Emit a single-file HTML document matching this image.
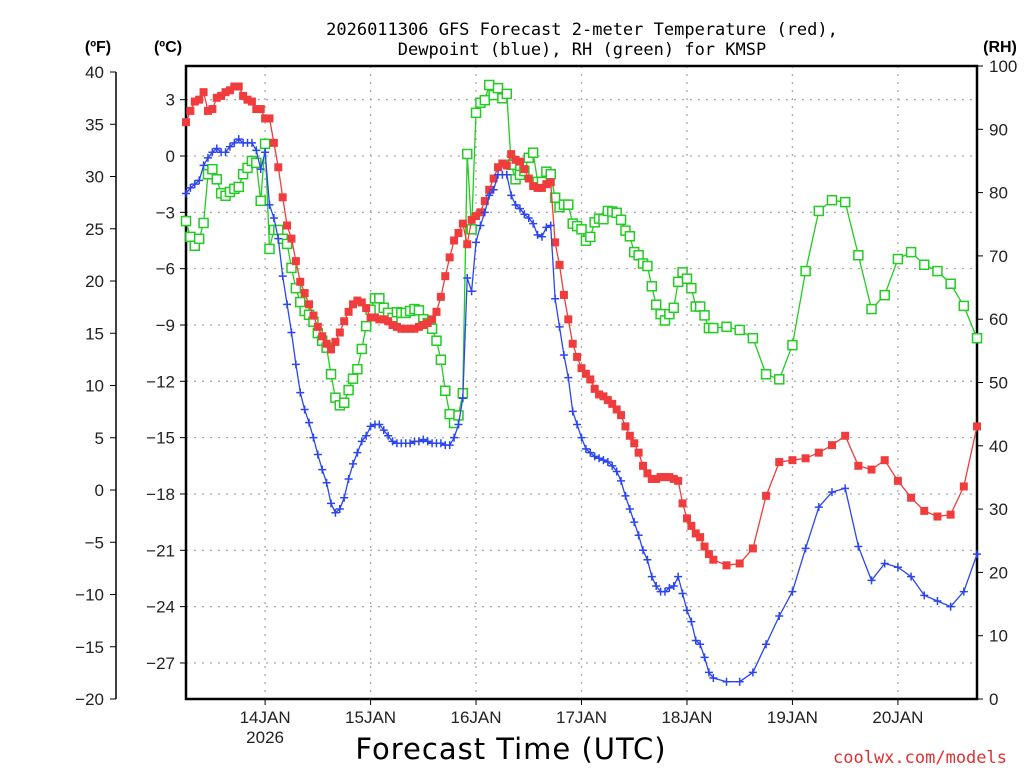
<!DOCTYPE html>
<html><head><meta charset="utf-8"><style>
html,body{margin:0;padding:0;background:#fff;}
svg{display:block;font-family:"Liberation Sans",sans-serif;}
</style></head><body>
<svg id="chart" width="1024" height="768" viewBox="0 0 1024 768">
<g font-family="DejaVu Sans Mono, Liberation Mono, monospace" font-size="17" text-anchor="middle" fill="#000">
<text x="582" y="35">2026011306 GFS Forecast 2-meter Temperature (red),</text>
<text x="582" y="55">Dewpoint (blue), RH (green) for KMSP</text>
</g>
<text x="98" y="52" font-size="16" font-weight="bold" text-anchor="middle">(ºF)</text>
<text x="168" y="52" font-size="16" font-weight="bold" text-anchor="middle">(ºC)</text>
<text x="1000" y="52" font-size="16" font-weight="bold" text-anchor="middle">(RH)</text>
<g id="grid"></g>
<g id="axes"></g>
<g id="series"></g>
<text x="511" y="759" font-size="29" letter-spacing="1" text-anchor="middle" font-family="DejaVu Sans, Liberation Sans, sans-serif">Forecast Time (UTC)</text>
<text x="920" y="763" font-size="17" fill="#e03030" text-anchor="middle" font-family="DejaVu Sans Mono, Liberation Mono, monospace">coolwx.com/models</text>
</svg>
<script>
// ---- data ----
const hoursHourly = Array.from({length:121},(_,i)=>i);
const hours3 = [123,126,129,132,135,138,141,144,147,150,153,156,159,162,165,168,171,174,177,180];
const tempC = [1.8,2.4,2.9,3.0,3.4,2.4,2.5,3.1,3.2,3.4,3.5,3.7,3.7,3.2,3.0,2.9,2.5,2.5,2.0,2.0,
0.7,-0.6,-2.2,-3.7,-4.4,-5.6,-6.7,-7.3,-7.9,-8.5,-9.1,-9.6,-10.0,-10.3,-9.9,-9.4,-8.8,-8.3,-7.9,-7.7,
-7.8,-8.1,-8.6,-8.6,-8.7,-8.7,-8.8,-9.0,-9.1,-9.2,-9.2,-9.2,-9.2,-9.1,-9.0,-8.9,-8.7,-8.3,-7.5,-6.4,
-5.4,-4.5,-4.1,-3.6,-4.7,-3.4,-3.2,-3.0,-2.4,-1.8,-1.2,-0.6,-0.4,-0.5,0.1,-0.2,-0.3,-0.7,-1.2,-1.6,
-1.7,-1.7,-1.5,-1.4,-4.6,-5.8,-7.4,-8.7,-10.0,-10.7,-11.3,-11.6,-11.9,-12.4,-12.7,-12.8,-13.0,-13.2,-13.5,-13.8,
-14.4,-14.9,-15.3,-15.8,-16.5,-16.9,-17.2,-17.2,-17.1,-17.1,-17.1,-17.2,-17.3,-18.5,-19.3,-19.7,-20.1,-20.3,-20.8,-21.2,
-21.5,
-21.8,-21.7,-20.9,-18.1,-16.3,-16.2,-16.1,-15.8,-15.4,-14.9,-16.5,-16.7,-16.2,-17.3,-18.2,-18.9,-19.2,-19.1,-17.6,-14.4];
const dewC = [-2.0,-1.7,-1.5,-1.3,-0.5,-0.1,0.2,0.4,0.2,0.2,0.5,0.7,0.9,0.7,0.7,0.7,0.3,-0.7,0.2,-2.6,
-3.3,-4.4,-6.4,-7.9,-9.4,-11.1,-12.6,-13.5,-14.2,-15.0,-15.9,-16.7,-17.4,-18.5,-19.0,-18.8,-18.2,-17.2,-16.4,-15.8,
-15.2,-14.9,-14.4,-14.3,-14.3,-14.6,-14.9,-15.2,-15.3,-15.3,-15.3,-15.3,-15.2,-15.2,-15.1,-15.2,-15.3,-15.3,-15.3,-15.4,
-15.4,-15.0,-14.3,-12.9,-6.5,-7.2,-4.6,-3.7,-3.0,-2.1,-1.8,-1.0,-1.0,-1.0,-2.1,-2.6,-2.8,-3.1,-3.3,-3.6,
-4.2,-4.3,-3.8,-3.7,-7.6,-9.1,-10.6,-11.8,-13.6,-14.3,-15.0,-15.6,-15.8,-16.0,-16.1,-16.2,-16.3,-16.5,-16.8,-17.3,
-18.1,-18.8,-19.5,-20.2,-21.0,-21.5,-22.4,-22.9,-23.2,-23.2,-23.0,-22.9,-22.4,-23.3,-24.2,-24.8,-25.8,-26.0,-26.7,-27.5,
-27.8,
-28.0,-28.0,-27.5,-26.0,-24.5,-23.2,-20.9,-18.7,-17.9,-17.7,-20.8,-22.6,-21.7,-21.9,-22.4,-23.4,-23.7,-24.0,-23.2,-21.2];
const rh = [75.5,73.0,71.6,72.7,75.2,82.9,83.7,82.1,79.9,79.5,80.1,80.6,80.9,82.9,83.9,85.0,84.7,78.7,87.7,71.1,
74.1,74.1,72.7,71.9,68.1,64.9,62.7,61.3,60.7,59.6,57.8,56.6,55.5,51.3,47.6,46.4,46.8,48.8,50.6,52.1,
55.3,58.9,61.5,63.3,63.3,61.8,61.0,60.2,61.1,61.0,61.0,61.3,61.6,61.4,60.0,59.4,58.5,56.6,53.6,48.7,
45.0,43.6,44.8,48.3,86.1,74.2,92.6,94.2,94.6,97.0,95.4,96.5,94.9,95.6,84.4,82.1,82.8,83.4,85.5,86.3,
81.7,81.7,83.3,82.9,79.2,77.7,78.1,78.1,75.1,74.7,74.2,72.4,73.0,75.3,75.9,75.8,77.1,77.0,76.8,75.7,
74.0,73.1,70.6,70.1,68.8,68.4,65.2,62.3,60.8,59.8,60.8,61.8,65.9,67.4,66.4,64.9,62.0,62.0,60.6,58.6,
58.6,
58.8,58.3,57.0,51.3,50.5,55.9,67.6,77.1,78.8,78.5,70.1,61.6,63.8,69.5,70.6,68.6,67.6,65.6,62.1,57.0];
const hours = hoursHourly.concat(hours3);
const cTicks = [3,0,-3,-6,-9,-12,-15,-18,-21,-24,-27];
const fTicks = [40,35,30,25,20,15,10,5,0,-5,-10,-15,-20];
const rhTicks = [100,90,80,70,60,50,40,30,20,10,0];
const dayLabels = ["14JAN","15JAN","16JAN","17JAN","18JAN","19JAN","20JAN"];
const dayHours = [18,42,66,90,114,138,162];

// ---- scales ----
const L=186,R=977,T=66,B=699;
const xS = h => L + (h/180)*(R-L);
const yC = c => 156 - c*(56.33/3);
const yF = f => 72 + (40-f)*(627/60);
const yRH = v => B - v*(B-T)/100;
const NS="http://www.w3.org/2000/svg";
function mk(tag,attrs,parent,txt){const e=document.createElementNS(NS,tag);for(const k in attrs)e.setAttribute(k,attrs[k]);if(txt!==undefined)e.textContent=txt;parent.appendChild(e);return e;}
const grid=document.getElementById('grid'),axes=document.getElementById('axes'),ser=document.getElementById('series');

cTicks.forEach(c=>{const y=yC(c);
 const g=mk('line',{x1:L,x2:R,y1:y,y2:y,stroke:'#aaa','stroke-width':1.3,'stroke-dasharray':'2,6'},grid);
 
 
 const t=mk('line',{x1:180,x2:L,y1:y,y2:y,stroke:'#000','stroke-width':1},axes);
 
 
 const l=mk('text',{x:175,y:y+6,'font-size':17,'text-anchor':'end',fill:'#222'},axes,c<0?'−'+(-c):String(c));
 
 
});
dayHours.forEach((h,i)=>{const x=xS(h);
 const g=mk('line',{x1:x,x2:x,y1:T,y2:B,stroke:'#aaa','stroke-width':1.3,'stroke-dasharray':'2,6'},grid);
 
 
 const t=mk('line',{x1:x,x2:x,y1:B,y2:B+6,stroke:'#000','stroke-width':1},axes);
 
 
 const l=mk('text',{x:x,y:723,'font-size':17,'text-anchor':'middle',fill:'#222'},axes,dayLabels[i]);
 
 
});
const yr=mk('text',{x:xS(18),y:743,'font-size':17,'text-anchor':'middle',fill:'#222'},axes,'2026');



// F axis
const fl=mk('line',{x1:116,x2:116,y1:yF(40),y2:yF(-20),stroke:'#000','stroke-width':1.5},axes);


fTicks.forEach(f=>{const y=yF(f);
 const t=mk('line',{x1:110,x2:116,y1:y,y2:y,stroke:'#000','stroke-width':1},axes);
 
 
 const l=mk('text',{x:104,y:y+6,'font-size':17,'text-anchor':'end',fill:'#222'},axes,f<0?'−'+(-f):String(f));
 
 
});
// RH axis
rhTicks.forEach(v=>{const y=yRH(v);
 const t=mk('line',{x1:R,x2:R+6,y1:y,y2:y,stroke:'#000','stroke-width':1},axes);
 
 
 const l=mk('text',{x:989,y:y+6,'font-size':17,'text-anchor':'start',fill:'#222'},axes,String(v));
 
 
});
const fr=mk('rect',{x:L,y:T,width:R-L,height:B-T,fill:'none',stroke:'#000','stroke-width':2.5},axes);



function drawSeries(vals,yf,color,kind,name){
 const pts=vals.map((v,i)=>xS(hours[i]).toFixed(1)+','+yf(v).toFixed(1)).join(' ');
 const pl=mk('polyline',{points:pts,fill:'none',stroke:color,'stroke-width':1.3},ser);
 
 
 vals.forEach((v,i)=>{const x=xS(hours[i]),y=yf(v);let m;
  if(kind==='sq'){m=mk('rect',{x:x-4,y:y-4,width:8,height:8,fill:color},ser);}
  else if(kind==='open'){m=mk('rect',{x:x-4.5,y:y-4.5,width:9,height:9,fill:'#fff',stroke:color,'stroke-width':1.5},ser);}
  else {m=mk('path',{d:`M${x-4},${y}H${x+4}M${x},${y-4}V${y+4}`,stroke:color,'stroke-width':1.5},ser);}
  
  
 });
}
drawSeries(rh,yRH,'#22cc22','open','rh');
drawSeries(tempC,yC,'#f03c3c','sq','temperature');
drawSeries(dewC,yC,'#2b45f0','plus','dewpoint');
</script>
</body></html>
